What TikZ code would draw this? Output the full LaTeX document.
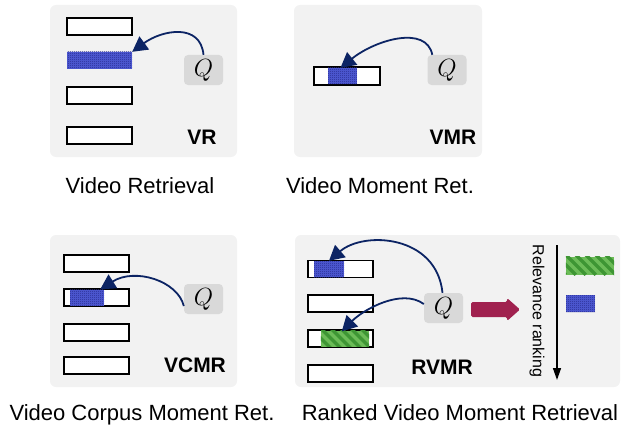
\documentclass[tikz,border=0pt]{standalone}
\usepackage{fontspec}
\setmainfont{Liberation Sans}
\usetikzlibrary{arrows.meta,patterns}
\definecolor{panelbg}{RGB}{242,242,242}
\definecolor{qbg}{RGB}{217,217,217}
\definecolor{navy}{RGB}{12,36,100}
\definecolor{hlblue}{RGB}{80,92,215}
\definecolor{hlbluedark}{RGB}{38,42,140}
\definecolor{hlgreen}{RGB}{108,188,88}
\definecolor{hlgreendark}{RGB}{62,150,52}
\definecolor{bigred}{RGB}{160,33,79}
\pgfdeclarepatternformonly{finecheck}{\pgfpointorigin}{\pgfpoint{2pt}{2pt}}{\pgfpoint{2pt}{2pt}}{%
  \pgfpathrectangle{\pgfpointorigin}{\pgfpoint{1pt}{1pt}}%
  \pgfpathrectangle{\pgfpoint{1pt}{1pt}}{\pgfpoint{1pt}{1pt}}%
  \pgfusepath{fill}}
\tikzset{
  panel/.style={fill=panelbg, rounded corners=6pt},
  bar/.style={rectangle, draw=black, line width=1.1pt, fill=white, minimum width=65pt, minimum height=17pt, inner sep=0pt},
  blueseg/.style={rectangle, fill=hlblue, minimum height=16pt, inner sep=0pt,
     postaction={pattern=finecheck, pattern color=hlbluedark}},
  greenseg/.style={rectangle, fill=hlgreen, minimum height=16pt, inner sep=0pt},
  qbox/.style={rectangle, fill=qbg, rounded corners=4pt, minimum width=39pt, minimum height=30pt, inner sep=0pt, font=\fontsize{27}{27}\selectfont},
  qarrow/.style={draw=navy, line width=1.8pt, -{Triangle[length=15pt,width=16pt]}},
  tag/.style={font=\fontsize{21}{21}\selectfont\bfseries},
  caption/.style={font=\fontsize{22}{26}\selectfont, anchor=base},
}
\newcommand{\greenstripes}[1]{%
  \begin{scope}
    \clip (#1.south west) rectangle (#1.north east);
    \foreach \i in {-30,-20,...,60} {
      \draw[line width=3.5pt, hlgreendark] ([xshift=\i pt, yshift=12pt]#1.north west) -- ++(30,30);
    }
  \end{scope}}
\begin{document}
\begin{tikzpicture}[x=1pt,y=-1pt]
\useasboundingbox (0,0) rectangle (621,428);
% panels
\fill[panel] (50,5) rectangle (237,157);
\fill[panel] (294,5) rectangle (482,157);
\fill[panel] (50,235) rectangle (237,387);
\fill[panel] (295,235) rectangle (620,387);

% ---------------- VR
\node[bar] (vr1) at (99.5,26.5) {};
\node[blueseg, minimum width=65pt, minimum height=17pt] (vr2) at (99.5,60.5) {};
\node[bar] (vr3) at (99.5,95.5) {};
\node[bar] (vr4) at (99.5,135.5) {};
\node[qbox] (vrq) at (203.5,70) {$Q$};
\node[tag] (vrtag) at (202,137) {VR};
\draw[qarrow] (vrq.north) .. controls +(-3,-32) and +(30,-22) .. (vr2.north east);

% ---------------- VMR
\node[bar, minimum width=66pt, minimum height=18pt] (vmr1) at (347,76) {};
\node[blueseg, minimum width=29pt] (vmrseg) at (342.5,76) {};
\draw[line width=1.1pt] (vmr1.north west) rectangle (vmr1.south east);
\node[qbox] (vmrq) at (447,70) {$Q$};
\node[tag] (vmrtag) at (453,137) {VMR};
\draw[qarrow] ([xshift=5pt]vmrq.north west) .. controls +(-6,-30) and +(35,-28) .. ([xshift=-2pt]vmrseg.north);

% ---------------- VCMR
\node[bar] (vc1) at (96.5,263.5) {};
\node[bar] (vc2) at (96.5,297.5) {};
\node[blueseg, minimum width=34pt] (vcseg) at (87,297.5) {};
\node[bar] (vc3) at (96.5,332.5) {};
\node[bar] (vc4) at (96.5,365.5) {};
\node[qbox] (vcq) at (203.5,299) {$Q$};
\node[tag] (vctag) at (195,365) {VCMR};
\draw[qarrow] ([yshift=-7pt]vcq.west) .. controls +(-6,-25) and +(35,-22) .. ([xshift=-4pt]vcseg.north east);

% ---------------- RVMR
\node[bar] (rv1) at (340.5,269) {};
\node[blueseg, minimum width=30pt] (rvseg1) at (329,269) {};
\node[bar] (rv2) at (340.5,303.5) {};
\node[bar] (rv3) at (340.5,338.5) {};
\node[greenseg, minimum width=48pt] (rvseg3) at (345,338.5) {};
\greenstripes{rvseg3}
\draw[line width=1.1pt] (rv3.north west) rectangle (rv3.south east);
\node[bar] (rv4) at (340.5,373.5) {};
\node[qbox] (rvq) at (443.5,308) {$Q$};
\node[tag] (rvtag) at (442,367) {RVMR};
\draw[qarrow] ([xshift=-1pt]rvq.north) .. controls +(-6,-58) and +(35,-30) .. (rvseg1.north);
\draw[qarrow] ([yshift=4pt]rvq.west) .. controls +(-22,-16) and +(22,-22) .. ([xshift=21pt,yshift=-1pt]rvseg3.north west);

% big arrow
\fill[bigred, rounded corners=1.5pt] (471,302) -- (507,302) -- (507,298) -- (520,309.5) -- (507,321) -- (507,317) -- (471,317) -- cycle;

% relevance ranking
\coordinate (rtop) at (557,245);
\coordinate (rbot) at (557,380);
\draw[line width=1.4pt, -{Triangle[length=12pt,width=8pt]}] (rtop) -- (rbot);
\node[rotate=-90, font=\fontsize{16}{16}\selectfont] (rel) at (537,311) {Relevance ranking};
\node[greenseg, minimum width=48pt, minimum height=18pt] (rankg) at (590,266) {};
\greenstripes{rankg}
\node[blueseg, minimum width=29pt, minimum height=17pt] (rankb) at (580.5,303.5) {};

% captions
\node[caption] (c1) at (140,193) {Video Retrieval};
\node[caption] (c2) at (380,193) {Video Moment Ret.};
\node[caption] (c3) at (142,420) {Video Corpus Moment Ret.};
\node[caption] (c4) at (460,420) {Ranked Video Moment Retrieval};
\end{tikzpicture}
\end{document}
